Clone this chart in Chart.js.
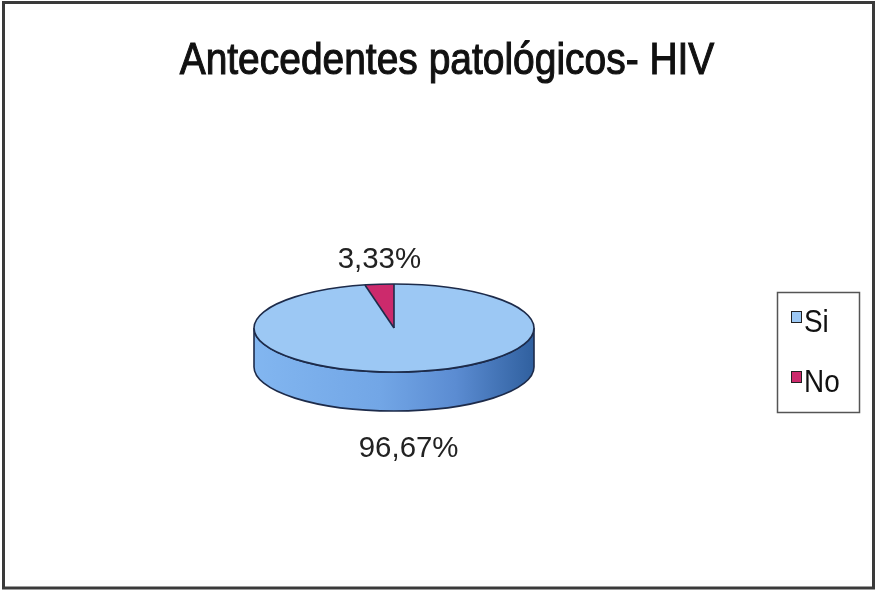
<!DOCTYPE html>
<html><head><meta charset="utf-8">
<script src="https://cdn.jsdelivr.net/npm/chart.js@4.4.0/dist/chart.umd.min.js"></script>
<style>html,body{margin:0;padding:0;background:#fff}#wrap{width:876px;height:590px;position:relative}canvas{display:block}</style>
</head><body><div id="wrap"><canvas id="c" width="876" height="590"></canvas></div>
<script>
const chartTitle = 'Antecedentes patológicos- HIV';
const categories = ['Si', 'No'];
const values = [96.67, 3.33];
const valueLabels = ['96,67%', '3,33%'];
const topColors = ['#9cc8f4', '#cc2a6c'];

const SQUASH = 44 / 140;
const DEPTH = 39;
const OUTLINE = '#1d2b4a';

function sideGradient(ctx, cx, rx, i) {
  const g = ctx.createLinearGradient(cx - rx, 0, cx + rx, 0);
  if (i === 0) {
    g.addColorStop(0, '#82b6f0');
    g.addColorStop(0.45, '#72a6e6');
    g.addColorStop(0.72, '#5b8cd2');
    g.addColorStop(1, '#30609f');
  } else {
    g.addColorStop(0, '#b02660');
    g.addColorStop(1, '#7a1a44');
  }
  return g;
}

function scaledText(ctx, text, x, y, sx, stroke) {
  ctx.save();
  ctx.translate(x, y);
  ctx.scale(sx, 1);
  ctx.fillText(text, 0, 0);
  if (stroke) {
    ctx.lineWidth = stroke;
    ctx.strokeStyle = ctx.fillStyle;
    ctx.strokeText(text, 0, 0);
  }
  ctx.restore();
}

const pie3d = {
  id: 'pie3d',
  beforeDatasetsDraw(chart) {
    const ctx = chart.ctx;
    const meta = chart.getDatasetMeta(0);
    const a0 = meta.data[0];
    const cx = a0.x, cy = a0.y, rx = a0.outerRadius, ry = rx * SQUASH;
    ctx.save();
    meta.data.forEach((arc, i) => {
      const s = arc.startAngle, e = arc.endAngle;
      for (let k = -1; k <= 1; k++) {
        const lo = Math.max(s, 2 * Math.PI * k);
        const hi = Math.min(e, Math.PI + 2 * Math.PI * k);
        if (hi > lo) {
          ctx.beginPath();
          ctx.ellipse(cx, cy, rx, ry, 0, lo, hi, false);
          ctx.ellipse(cx, cy + DEPTH, rx, ry, 0, hi, lo, true);
          ctx.closePath();
          ctx.fillStyle = sideGradient(ctx, cx, rx, i);
          ctx.fill();
          ctx.lineWidth = 1.6;
          ctx.strokeStyle = OUTLINE;
          ctx.stroke();
        }
      }
    });
    ctx.restore();
    ctx.save();
    ctx.translate(cx, cy);
    ctx.scale(1, SQUASH);
    ctx.translate(-cx, -cy);
  },
  afterDatasetsDraw(chart) {
    const ctx = chart.ctx;
    ctx.restore();
    const meta = chart.getDatasetMeta(0);
    const a0 = meta.data[0];
    const cx = a0.x, cy = a0.y, rx = a0.outerRadius, ry = rx * SQUASH;
    ctx.save();
    ctx.strokeStyle = OUTLINE;
    ctx.lineWidth = 1.6;
    ctx.beginPath();
    ctx.ellipse(cx, cy, rx, ry, 0, 0, Math.PI * 2);
    ctx.stroke();
    meta.data.forEach(arc => {
      ctx.beginPath();
      ctx.moveTo(cx, cy);
      ctx.lineTo(cx + rx * Math.cos(arc.startAngle), cy + ry * Math.sin(arc.startAngle));
      ctx.stroke();
    });
    // labels
    ctx.fillStyle = '#222';
    ctx.font = '30px "Liberation Sans", Arial, sans-serif';
    ctx.textAlign = 'center';
    ctx.textBaseline = 'alphabetic';
    meta.data.forEach((arc, i) => {
      const mid = (arc.startAngle + arc.endAngle) / 2;
      const px = cx + rx * Math.cos(mid);
      const py = cy + ry * Math.sin(mid);
      let by;
      if (Math.sin(mid) < 0) by = py - 16;
      else by = py + DEPTH + 46;
      scaledText(ctx, valueLabels[i], px, by, 0.98);
    });
    ctx.restore();
  },
  afterDraw(chart) {
    const ctx = chart.ctx;
    ctx.save();
    // frame
    ctx.strokeStyle = '#3a3a3a';
    ctx.lineWidth = 3;
    ctx.strokeRect(3.5, 2.5, 870, 585.5);
    // title
    ctx.fillStyle = '#111';
    ctx.font = '44px "Liberation Sans", Arial, sans-serif';
    ctx.textAlign = 'center';
    ctx.textBaseline = 'alphabetic';
    scaledText(ctx, chartTitle, 447, 74, 0.885, 1.1);
    // legend
    ctx.strokeStyle = '#555';
    ctx.lineWidth = 1.5;
    ctx.strokeRect(777.5, 292.5, 82, 120);
    ctx.font = '31px "Liberation Sans", Arial, sans-serif';
    ctx.textAlign = 'left';
    ctx.textBaseline = 'alphabetic';
    categories.forEach((c, i) => {
      const base = 332 + i * 60;
      ctx.fillStyle = topColors[i];
      ctx.fillRect(792, base - 20, 9, 10);
      ctx.strokeStyle = '#222';
      ctx.lineWidth = 1;
      ctx.strokeRect(791.5, base - 20.5, 10, 11);
      ctx.fillStyle = '#111';
      scaledText(ctx, c, 804, base, 0.9);
    });
    ctx.restore();
  }
};

new Chart(document.getElementById('c'), {
  type: 'pie',
  data: {
    labels: categories,
    datasets: [{
      data: values,
      backgroundColor: topColors,
      borderWidth: 0,
      hoverOffset: 0,
      radius: 140
    }]
  },
  options: {
    responsive: false,
    animation: false,
    events: [],
    layout: { padding: { left: 0, right: 88, top: 66, bottom: 0 } },
    plugins: {
      legend: { display: false },
      title: { display: false },
      tooltip: { enabled: false }
    }
  },
  plugins: [pie3d]
});
</script>
</body></html>
